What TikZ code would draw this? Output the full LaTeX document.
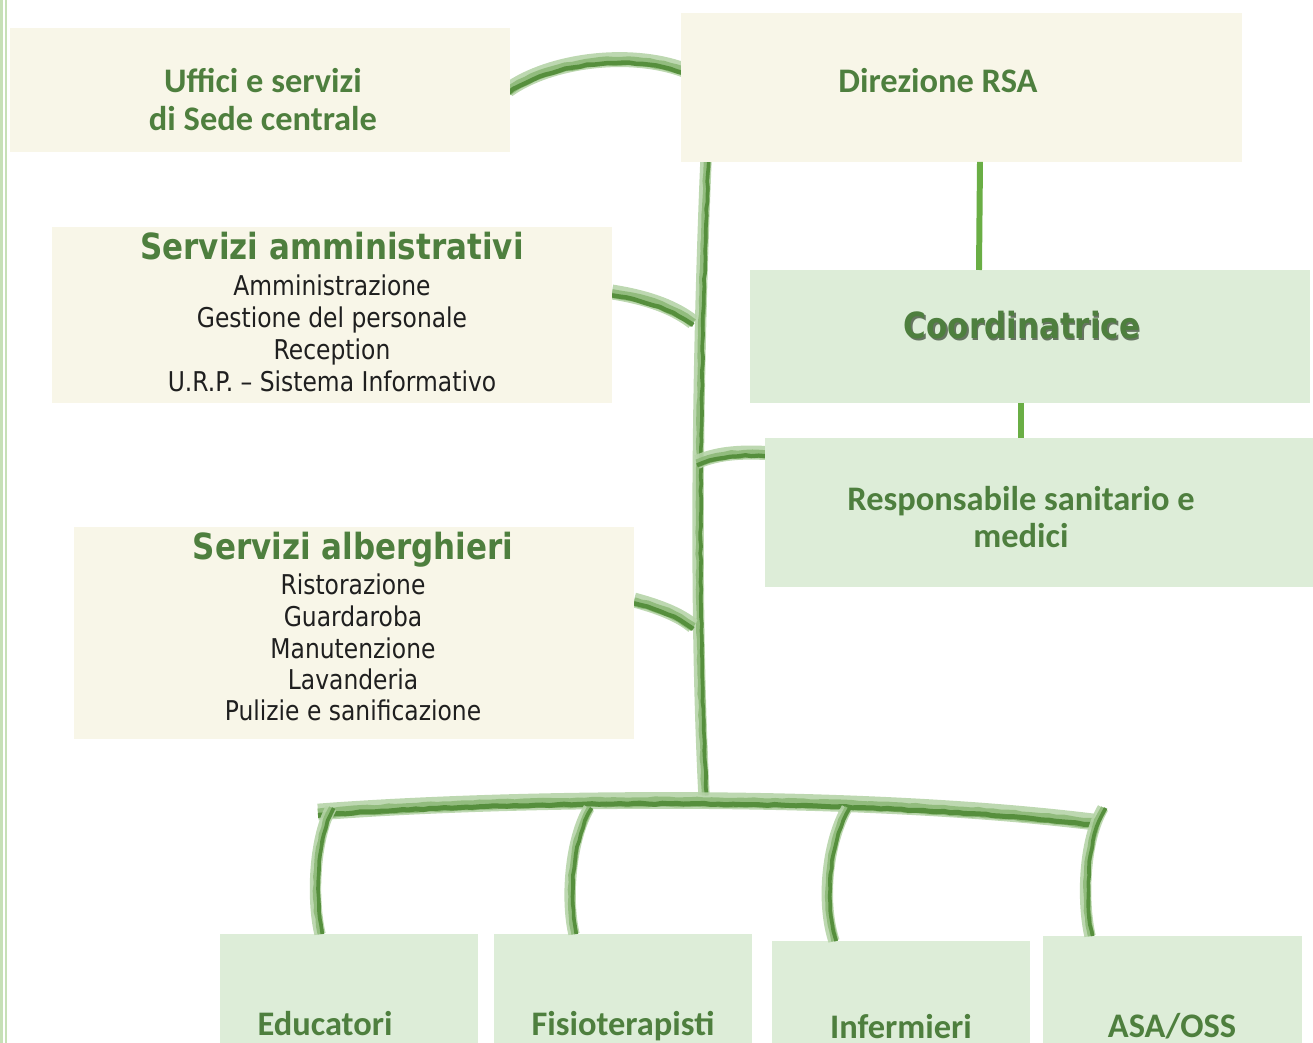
\documentclass[tikz,border=0pt]{standalone}
\usepackage{fontspec}
\setmainfont{Carlito}
\newfontfamily\verd[FakeStretch=0.86]{DejaVu Sans}
\usetikzlibrary{decorations.pathmorphing}
\definecolor{cream}{HTML}{F8F6E8}
\definecolor{lgreen}{HTML}{DDEDD8}
\definecolor{tgreen}{HTML}{4E7F3E}
\definecolor{conn}{HTML}{6AAE45}
\definecolor{bl}{HTML}{B6D4A8}
\definecolor{bm}{HTML}{8BB876}
\definecolor{bd}{HTML}{568F3D}
\definecolor{bordergreen}{HTML}{C6E0B6}
\tikzset{
 cbox/.style={fill=cream, draw=none, anchor=north west, inner sep=0, outer sep=0},
 gbox/.style={fill=lgreen, draw=none, anchor=north west, inner sep=0, outer sep=0},
 ttl/.style={font=\bfseries\fontsize{19.6}{22}\selectfont, text=tgreen, anchor=base, inner sep=0},
 vttl/.style={font=\verd\bfseries\fontsize{20.5}{22}\selectfont, text=tgreen, anchor=base, inner sep=0},
 body/.style={font=\verd\fontsize{15.5}{18}\selectfont, text=black!88, anchor=base, inner sep=0},
 link/.style={draw=conn, line width=3.4pt},
 rough/.style={decorate, decoration={random steps, segment length=4pt, amplitude=0.35pt}},
}
\newcommand\hbrush[2]{%
 \draw[bl, line width=#1, opacity=.9] #2;
 \draw[bm, line width=0.6*#1, opacity=.85, rough, transform canvas={yshift=-0.9pt}] #2;
 \draw[bd, line width=0.3*#1, rough, transform canvas={yshift=-1.9pt}] #2;}
\newcommand\vbrush[2]{%
 \draw[bl, line width=#1, opacity=.9] #2;
 \draw[bm, line width=0.6*#1, opacity=.85, rough, transform canvas={xshift=0.7pt}] #2;
 \draw[bd, line width=0.32*#1, rough, transform canvas={xshift=1.5pt}] #2;}
\begin{document}
\begin{tikzpicture}[x=0.02cm,y=-0.02cm]
\useasboundingbox (0,0) rectangle (1313,1043);
% left border
\fill[bordergreen] (0,0) rectangle (3,1043);
\fill[bordergreen] (5,0) rectangle (7,1043);
% brush connectors
\coordinate (arcA) at (508,90);
\coordinate (arcB) at (684,70);
\coordinate (trTop) at (706,160);
\coordinate (trBot) at (704,795);
\coordinate (brAmm) at (612,292);
\coordinate (brAmmE) at (693,322);
\coordinate (brResS) at (697,462);
\coordinate (brRes) at (767,453);
\coordinate (brAlb) at (634,600);
\coordinate (brAlbE) at (693,626);
\coordinate (barL) at (318,812);
\coordinate (barR) at (1094,822);
\hbrush{8.5pt}{(arcA) .. controls (550,60) and (630,50) .. (arcB)}
\vbrush{6.5pt}{(trTop) .. controls (698,350) and (694,600) .. (trBot)}
\hbrush{8.5pt}{(brAmm) .. controls (650,298) and (675,308) .. (brAmmE)}
\hbrush{8pt}{(brResS) .. controls (720,452) and (745,452) .. (brRes)}
\hbrush{8.5pt}{(brAlb) .. controls (660,607) and (680,615) .. (brAlbE)}
\hbrush{9.5pt}{(barL) .. controls (500,798) and (850,792) .. (barR)}
% boxes
\node[cbox, minimum width=10cm, minimum height=2.48cm] (uff) at (10,28) {};
\node[cbox, minimum width=11.22cm, minimum height=2.98cm] (dir) at (681,13) {};
\node[cbox, minimum width=11.2cm, minimum height=3.52cm] (amm) at (52,227) {};
\node[gbox, minimum width=11.2cm, minimum height=2.66cm] (coo) at (750,270) {};
\node[gbox, minimum width=10.96cm, minimum height=2.98cm] (res) at (765,438) {};
\node[cbox, minimum width=11.2cm, minimum height=4.24cm] (alb) at (74,527) {};
\node[gbox, minimum width=5.16cm, minimum height=2.18cm] (edu) at (220,934) {};
\node[gbox, minimum width=5.16cm, minimum height=2.18cm] (fis) at (494,934) {};
\node[gbox, minimum width=5.16cm, minimum height=2.04cm] (inf) at (772,941) {};
\node[gbox, minimum width=5.18cm, minimum height=2.14cm] (asa) at (1043,936) {};
% verticals to bottom boxes
\coordinate (vE) at (331,808);
\coordinate (vF) at (589,808);
\coordinate (vI) at (847,808);
\coordinate (vA) at (1103,808);
\vbrush{6.5pt}{(vE) .. controls (314,840) and (312,900) .. (edu.north -| 320,0)}
\vbrush{6.5pt}{(vF) .. controls (570,840) and (566,900) .. (fis.north -| 574,0)}
\vbrush{6.5pt}{(vI) .. controls (826,845) and (822,905) .. (inf.north -| 834,0)}
\vbrush{6.5pt}{(vA) .. controls (1084,840) and (1082,900) .. (asa.north -| 1090,0)}
% straight links
\draw[link] (dir.south -| 980,0) -- (coo.north -| 979,0);
\draw[link] (coo.south -| 1021,0) -- (res.north -| 1021,0);
% texts
\node[ttl] (uffA) at (263,93) {Uffici e servizi};
\node[ttl] (uffB) at (263,131) {di Sede centrale};
\node[ttl] (dirT) at (938,93) {Direzione RSA};
\node[vttl] (ammT) at (332,260) {Servizi amministrativi};
\node[body] (amm1) at (332,296) {Amministrazione};
\node[body] (amm2) at (332,328) {Gestione del personale};
\node[body] (amm3) at (332,360) {Reception};
\node[body] (amm4) at (332,392) {U.R.P. – Sistema Informativo};
\node[vttl, text=black!70!tgreen, opacity=.6] (cooS) at (1023.5,340.5) {Coordinatrice};
\node[vttl] (cooT) at (1022,339) {Coordinatrice};
\node[ttl] (resA) at (1021,511) {Responsabile sanitario e};
\node[ttl] (resB) at (1021,548) {medici};
\node[vttl] (albT) at (353,560) {Servizi alberghieri};
\node[body] (alb1) at (353,595) {Ristorazione};
\node[body] (alb2) at (353,627) {Guardaroba};
\node[body] (alb3) at (353,659) {Manutenzione};
\node[body] (alb4) at (353,690) {Lavanderia};
\node[body] (alb5) at (353,721) {Pulizie e sanificazione};
\node[ttl] (eduT) at (325,1035) {Educatori};
\node[ttl] (fisT) at (623,1035) {Fisioterapisti};
\node[ttl] (infT) at (901,1038) {Infermieri};
\node[ttl] (asaT) at (1172,1037) {ASA/OSS};
\end{tikzpicture}
\end{document}
